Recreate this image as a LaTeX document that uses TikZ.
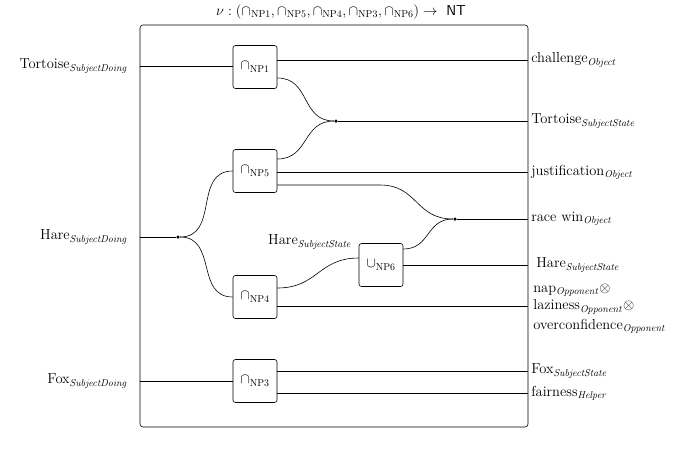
\documentclass[tikz,border=0pt]{standalone}
\begin{document}
\begin{tikzpicture}[x=1pt,y=-1pt,line width=0.6pt,font=\fontsize{14.5}{17}\selectfont,
  box/.style={draw,rounded corners=2.5pt,minimum width=44pt,minimum height=43pt,inner sep=0pt},
  lbl/.style={inner sep=1pt},
  dot/.style={circle,fill,inner sep=0pt,minimum size=3.5pt},
  w/.style={out=0,in=180,looseness=1.2}]
\useasboundingbox (0,0) rectangle (684,451);
\node (title) at (341,12) {$\nu:(\cap_{\mathrm{NP1}},\cap_{\mathrm{NP5}},\cap_{\mathrm{NP4}},\cap_{\mathrm{NP3}},\cap_{\mathrm{NP6}})\rightarrow\ \mathsf{NT}$};
\draw[rounded corners=3pt] (140,25) rectangle (528,427);
\node[box] (np1) at (255,67) {$\cap_{\mathrm{NP1}}$};
\node[box] (np5) at (255,171) {$\cap_{\mathrm{NP5}}$};
\node[box] (np4) at (255,297) {$\cap_{\mathrm{NP4}}$};
\node[box] (np6) at (381,265) {$\cup_{\mathrm{NP6}}$};
\node[box] (np3) at (255,381) {$\cap_{\mathrm{NP3}}$};
\node[dot] (d1) at (336,121) {};
\node[dot] (d2) at (455,219) {};
\node[dot] (d3) at (178,237) {};
\node[lbl,anchor=east] (lt) at (129,66) {Tortoise$_{\mathit{SubjectDoing}}$};
\node[lbl,anchor=east] (lh) at (129,237) {Hare$_{\mathit{SubjectDoing}}$};
\node[lbl,anchor=east] (lf) at (129,381) {Fox$_{\mathit{SubjectDoing}}$};
\node[lbl,anchor=east] (hs) at (353,242) {Hare$_{\mathit{SubjectState}}$};
\coordinate (l1) at (140,66); \coordinate (l2) at (140,237); \coordinate (l3) at (140,381);
\foreach \n/\y in {r1/60,r2/121,r3/172,r4/219,r5/265,r6/306,r7/371,r8/393} \coordinate (\n) at (528,\y);
\node[lbl,anchor=west] at (530,60) {challenge$_{\mathit{Object}}$};
\node[lbl,anchor=west] at (530,121) {Tortoise$_{\mathit{SubjectState}}$};
\node[lbl,anchor=west] at (530,172) {justification$_{\mathit{Object}}$};
\node[lbl,anchor=west] at (530,219) {race win$_{\mathit{Object}}$};
\node[lbl,anchor=west] at (535,265) {Hare$_{\mathit{SubjectState}}$};
\node[lbl,anchor=west] at (532,290) {nap$_{\mathit{Opponent}}\otimes$};
\node[lbl,anchor=west] at (532,307) {laziness$_{\mathit{Opponent}}\otimes$};
\node[lbl,anchor=west] at (532,326) {overconfidence$_{\mathit{Opponent}}$};
\node[lbl,anchor=west] at (530,371) {Fox$_{\mathit{SubjectState}}$};
\node[lbl,anchor=west] at (530,393) {fairness$_{\mathit{Helper}}$};
\draw (l1) -- (np1.west|-l1);
\draw (np1.east|-r1) -- (r1);
\draw (np1.east|-0,78) to[w] (d1);
\draw (np5.east|-0,159) to[w] (d1);
\draw (d1) -- (r2);
\draw (np5.east|-r3) -- (r3);
\draw (np5.east|-0,185) -- (380,185) to[w] (d2);
\draw (np6.east|-0,249) to[w] (d2);
\draw (d2) -- (r4);
\draw (np6.east|-r5) -- (r5);
\draw (np4.east|-0,288) to[w] (np6.west|-0,258);
\draw (np4.east|-r6) -- (r6);
\draw (l2) -- (d3);
\draw (d3) to[w] (np5.west);
\draw (d3) to[w] (np4.west);
\draw (l3) -- (np3.west);
\draw (np3.east|-r7) -- (r7);
\draw (np3.east|-r8) -- (r8);
\end{tikzpicture}
\end{document}
